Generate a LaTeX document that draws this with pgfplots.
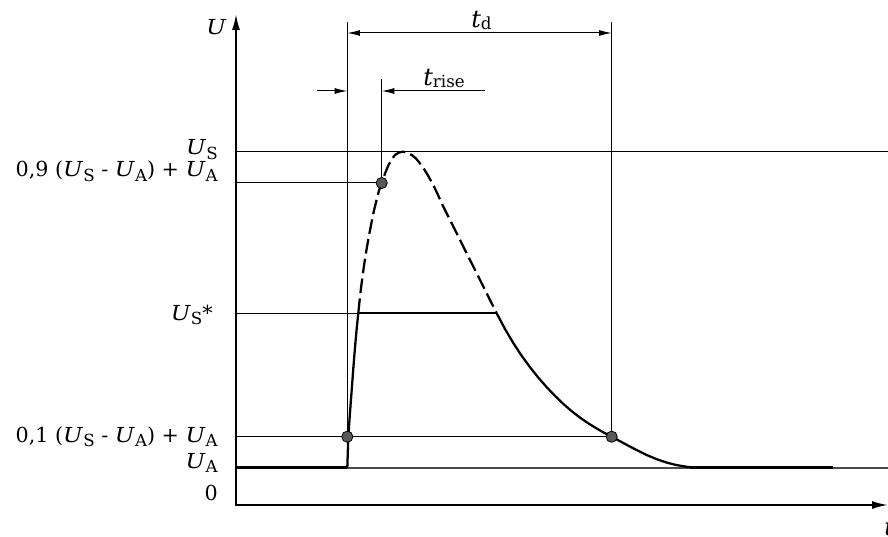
\documentclass[border=0pt]{standalone}
\usepackage{graphicx}
\usepackage{pgfplots}
\pgfplotsset{compat=1.18}
\usepackage{fontspec}
\setmainfont{DejaVu Serif}
\usetikzlibrary{arrows.meta}
\newcommand{\sub}[1]{\raisebox{-3.6pt}{\fontsize{12.5}{13}\selectfont #1}}
\newcommand{\U}{\scalebox{1.12}[1]{\fontsize{15.5}{17}\selectfont\textit{U}}}
\begin{document}
\begin{tikzpicture}
\begin{axis}[scale only axis, width=666pt, height=402pt,
  xmin=0, xmax=888, ymin=-31, ymax=505, hide axis, clip=false]
% reference lines
\addplot[black, line width=0.75pt] coordinates {(236,353) (888,353)};
\addplot[black, line width=0.75pt] coordinates {(236,322) (381.7,322)};
\addplot[black, line width=0.75pt] coordinates {(236,192) (359,192)};
\addplot[black, line width=0.75pt] coordinates {(236,68.3) (611.7,68.3)};
\addplot[black!70, line width=1.5pt] coordinates {(236,37.5) (888,37.5)};
% extension lines
\addplot[black, line width=0.75pt] coordinates {(347.3,483) (347.3,38)};
\addplot[black, line width=0.75pt] coordinates {(381.7,426) (381.7,322)};
\addplot[black, line width=0.75pt] coordinates {(611.7,483) (611.7,68.3)};
% dimension arrows
\addplot[black, line width=0.75pt, {Latex[length=9.5pt,width=4.5pt]}-{Latex[length=9.5pt,width=4.5pt]}] coordinates {(347.3,472) (611.7,472)};
\addplot[black, line width=0.75pt, -{Latex[length=9.5pt,width=4.5pt]}] coordinates {(317,414) (347.3,414)};
\addplot[black, line width=0.75pt, -{Latex[length=9.5pt,width=4.5pt]}] coordinates {(485,414) (381.7,414)};
% axes
\addplot[black, line width=1.4pt, -{Latex[length=12pt,width=6pt]}] coordinates {(236,0) (236,491)};
\addplot[black, line width=1.4pt, -{Latex[length=12pt,width=6pt]}] coordinates {(235.3,0) (888,0)};
% pulse: baseline and solid rise
\addplot[black, line width=1.7pt, line join=round] coordinates {(236,37.5) (347.3,37.5)};
\addplot[black, line width=1.7pt, line join=round] coordinates {
(347.3,37.5) (347.8,52.5) (348.3,68.3) (350,92.5) (351.7,115) (353.3,136.5) (355,157.5) (356.7,176.5) (358.3,192)};
% dashed part
\addplot[black, line width=1.7pt, line join=round, dash pattern=on 11pt off 4pt] coordinates {
(358.3,192) (360,208.5) (361.7,222.5) (364,239.5) (366.7,256.5) (369,269.5) (371.7,283.5) (374,294.5) (376.7,305.5)
(379,314.5) (381.7,322) (385,331.5) (388.3,339.5) (391.5,345.5) (395,350) (399,352.5) (403.3,353.3)
(407,352.4) (411.7,350) (416,346.5) (420,341.5) (424,336) (428,329.5) (433.3,320) (438,310) (443.3,298.4)
(450,285) (456.7,271.7) (463.3,258.4) (470,245) (476.7,231.7) (483.3,218.5) (490,205) (496.7,191.7)};
% U_S* plateau
\addplot[black, line width=1.7pt] coordinates {(358.3,192) (496.7,192)};
% solid decay
\addplot[black, line width=1.7pt, line join=round] coordinates {
(496.7,191.7) (505,176.0) (513.4,161.8) (521.7,149.2) (530,137.8) (538.4,127.3) (546.7,117.8) (555,109.1)
(563.4,101.0) (571.7,93.8) (580,87.4) (588.4,81.6) (596.7,76.5) (604.2,72.2) (611.7,68.3) (620.7,63.4)
(630,58.4) (638.4,54.1) (646.7,50.0) (656.7,45.8) (666.7,42.4) (676.7,39.9) (686.7,38.2) (694,37.5)};
\addplot[black, line width=1.7pt] coordinates {(690,37.5) (833,37.5)};
% measurement points
\addplot[only marks, mark=*, mark size=4.2pt, mark options={fill=black!65, draw=black, line width=0.6pt}] coordinates {
(347.3,68.3) (381.7,322) (611.7,68.3)};
% labels
\tikzset{lab/.style={inner sep=0pt, font=\fontsize{15.5}{17}\selectfont}}
\node[lab, anchor=base east] at (axis cs:218,350.5) {\U\sub{S}};
\node[lab, anchor=base east] at (axis cs:218,328.5) {0,9 (\U\sub{S} - \U\sub{A}) + \U\sub{A}};
\node[lab, anchor=base east] at (axis cs:213,185) {\U\sub{S}*};
\node[lab, anchor=base east] at (axis cs:218,63) {0,1 (\U\sub{S} - \U\sub{A}) + \U\sub{A}};
\node[lab, anchor=base east] at (axis cs:218,37) {\U\sub{A}};
\node[lab, anchor=base east] at (axis cs:218,5) {0};
\node[lab, anchor=base west] at (axis cs:206,470) {\U};
\node[inner sep=0pt, anchor=base west, font=\fontsize{18}{19}\selectfont] at (axis cs:471,477) {\textit{t}\raisebox{-1pt}{\fontsize{12.5}{13}\selectfont d}};
\node[inner sep=0pt, anchor=base west, font=\fontsize{18}{19}\selectfont] at (axis cs:423,419) {\textit{t}\raisebox{-1.5pt}{\fontsize{12.5}{13}\selectfont rise}};
\node[inner sep=0pt, anchor=base west, font=\fontsize{18}{19}\selectfont] at (axis cs:884,-30) {\textit{t}};
\coordinate (bl) at (axis cs:0,-31);
\coordinate (tr) at (axis cs:888,505);
\end{axis}
\pgfresetboundingbox
\useasboundingbox (bl) rectangle (tr);
\end{tikzpicture}
\end{document}
